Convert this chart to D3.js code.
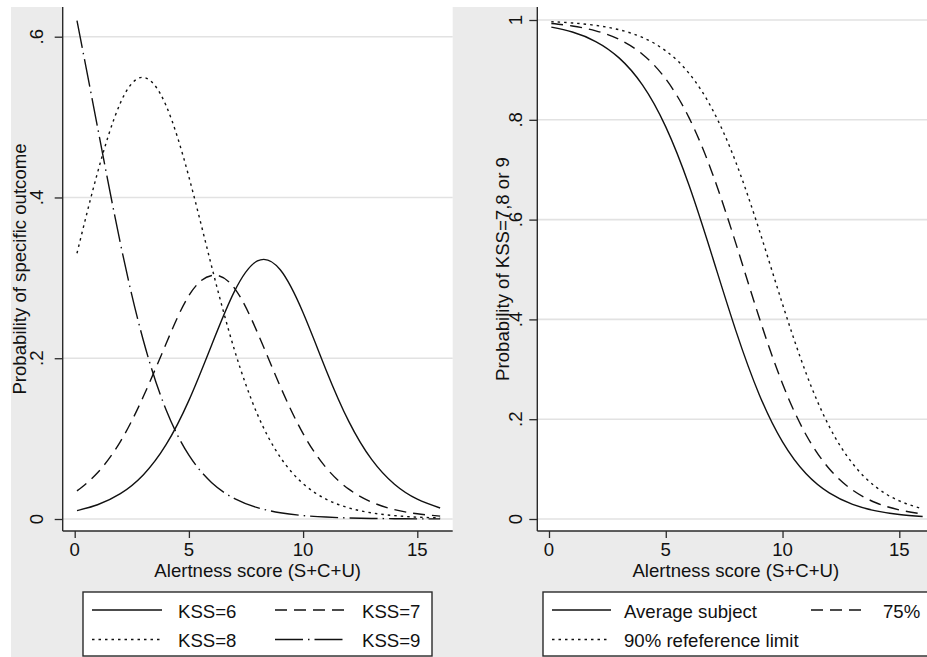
<!DOCTYPE html>
<html><head><meta charset="utf-8">
<script src="https://cdn.jsdelivr.net/npm/d3@7"></script>
<style>
html,body{margin:0;padding:0;background:#fff;}
svg{display:block;font-family:"Liberation Sans",Arial,Helvetica,sans-serif;}
</style>
</head><body>
<svg id="c" width="927" height="657"></svg>
<script>
// ---- data ----
const xValues = [0.1,1,2,3,4,5,6,7,8,9,10,11,12,13,14,15,16];
const kss6 = [0.0104,0.0177,0.0315,0.0548,0.0924,0.1476,0.2168,0.2835,0.3210,0.3100,0.2565,0.1858,0.1214,0.0741,0.0432,0.0246,0.0137];
const kss7 = [0.0350,0.0575,0.0963,0.1520,0.2180,0.2780,0.3030,0.2870,0.2320,0.1650,0.1062,0.0640,0.0371,0.0210,0.0117,0.0065,0.0036];
const kss8 = [0.3306,0.4309,0.5176,0.5494,0.5143,0.4256,0.3137,0.2098,0.1302,0.0769,0.0440,0.0248,0.0138,0.0076,0.0042,0.0023,0.0013];
const kss9 = [0.6201,0.4875,0.3430,0.2227,0.1359,0.0794,0.0452,0.0253,0.0141,0.0078,0.0043,0.0024,0.0013,0.0007,0.0004,0.0002,0.0001];
const avgSubject = [0.9858,0.9759,0.9569,0.9241,0.8699,0.7858,0.6682,0.5250,0.3775,0.2497,0.1545,0.0911,0.0522,0.0293,0.0163,0.0090,0.0050];
const pct75 = [0.9930,0.9880,0.9783,0.9612,0.9315,0.8818,0.8038,0.6921,0.5523,0.4037,0.2709,0.1694,0.1007,0.0579,0.0326,0.0182,0.0101];
const ref90 = [0.9965,0.9941,0.9892,0.9805,0.9651,0.9382,0.8929,0.8205,0.7150,0.5793,0.4305,0.2932,0.1854,0.1111,0.0641,0.0363,0.0202];

const xTicks = [0,5,10,15];
const yTicksLeft = [0,0.2,0.4,0.6];
const yTicksRight = [0,0.2,0.4,0.6,0.8,1];
const xTitle = "Alertness score (S+C+U)";
const yTitleLeft = "Probability of specific outcome";
const yTitleRight = "Probability of KSS=7,8 or 9";
const leftLegend = ["KSS=6","KSS=7","KSS=8","KSS=9"];
const rightLegend = ["Average subject","75%","90% refeference limit"];

// ---- styles ----
const FS = 18.6;
const INK = "#111";
const AX = "#2a2a2a";
const dashes = {solid:null, dash:"12,7", dot:"2.5,4", dashdot:"28,5,1.5,5"};
const tickFmt = d => d===0 ? "0" : d===1 ? "1" : String(+d.toFixed(1)).replace(/^0/,"");

const svg = d3.select("#c");
svg.append("rect").attr("width",927).attr("height",657).attr("fill","#fff");
svg.append("rect").attr("x",11).attr("y",7).attr("width",930).attr("height",660).attr("fill","#ebebeb");

function panel(cfg){
  const g = svg.append("g");
  const x = d3.scaleLinear().domain([0,15]).range(cfg.xr);
  const y = d3.scaleLinear().domain(cfg.yd).range(cfg.yr);
  const L = cfg.frame[0], R = cfg.frame[1], T = 7, B = 531;
  g.append("rect").attr("x",L).attr("y",T).attr("width",R-L).attr("height",B-T).attr("fill","#fff");
  const id = "clip"+cfg.name;
  svg.append("clipPath").attr("id",id).append("rect").attr("x",L).attr("y",T).attr("width",R-L).attr("height",B-T);
  // grid
  g.selectAll(".grid").data(cfg.yTicks).join("line")
    .attr("x1",L).attr("x2",R).attr("y1",d=>y(d)).attr("y2",d=>y(d))
    .attr("stroke","#e2e2e2").attr("stroke-width",1.6);
  // curves
  const line = d3.line().x((d,i)=>x(xValues[i])).y(d=>y(d)).curve(d3.curveNatural);
  const cg = g.append("g").attr("clip-path",`url(#${id})`);
  cfg.series.forEach(s=>{
    cg.append("path").attr("d",line(s.values)).attr("fill","none")
      .attr("stroke",INK).attr("stroke-width",1.4)
      .attr("stroke-dasharray",dashes[s.style]);
  });
  // axes lines
  g.append("line").attr("x1",L).attr("x2",L).attr("y1",T).attr("y2",B).attr("stroke",AX).attr("stroke-width",1.4);
  g.append("line").attr("x1",L).attr("x2",R).attr("y1",B).attr("y2",B).attr("stroke",AX).attr("stroke-width",1.4);
  // y ticks via axis
  const ya = g.append("g").attr("transform",`translate(${L},0)`)
    .call(d3.axisLeft(y).tickValues(cfg.yTicks).tickSize(8).tickFormat(""));
  ya.select(".domain").remove();
  ya.selectAll(".tick line").attr("stroke",AX).attr("stroke-width",1.3);
  g.selectAll(".ylab").data(cfg.yTicks).join("text")
    .attr("transform",d=>`translate(${cfg.ylabX},${y(d)}) rotate(-90)`)
    .attr("text-anchor","middle").attr("font-size",FS).attr("fill",INK).text(tickFmt);
  // x ticks via axis
  const xa = g.append("g").attr("transform",`translate(0,${B})`)
    .call(d3.axisBottom(x).tickValues(xTicks).tickSize(7).tickFormat(""));
  xa.select(".domain").remove();
  xa.selectAll(".tick line").attr("stroke",AX).attr("stroke-width",1.3);
  g.selectAll(".xlab").data(xTicks).join("text")
    .attr("x",d=>x(d)).attr("y",556).attr("text-anchor","middle")
    .attr("font-size",FS).attr("fill",INK).text(d=>d);
  // titles
  g.append("text").attr("x",(L+R)/2).attr("y",577).attr("text-anchor","middle")
    .attr("font-size",FS).attr("fill",INK).text(xTitle);
  g.append("text").attr("transform",`translate(${cfg.ytitleX},${(T+B)/2}) rotate(-90)`)
    .attr("text-anchor","middle").attr("font-size",FS).attr("fill",INK).text(cfg.yTitle);
  // legend
  const lg = cfg.legend;
  g.append("rect").attr("x",lg.box[0]).attr("y",592).attr("width",lg.box[1]-lg.box[0]).attr("height",64)
    .attr("fill","#fff").attr("stroke",AX).attr("stroke-width",1.4);
  lg.items.forEach(it=>{
    const ly = it.row===0 ? 610 : 639.5;
    const ty = it.row===0 ? 617.5 : 646.5;
    g.append("line").attr("x1",it.x1).attr("x2",it.x2).attr("y1",ly).attr("y2",ly)
      .attr("stroke",INK).attr("stroke-width",1.4).attr("stroke-dasharray",dashes[it.style]);
    g.append("text").attr("x",it.tx).attr("y",ty).attr("font-size",FS).attr("fill",INK).text(it.label);
  });
}

panel({
  name:"L", xr:[74.7,417.3], yd:[0,0.6], yr:[519,36.7], frame:[62.7,452.7],
  yTicks:yTicksLeft, ylabX:42.5, ytitleX:25.5, yTitle:yTitleLeft,
  series:[{values:kss6,style:"solid"},{values:kss7,style:"dash"},{values:kss8,style:"dot"},{values:kss9,style:"dashdot"}],
  legend:{box:[83,432], items:[
    {row:0,x1:92,x2:162,tx:178,style:"solid",label:leftLegend[0]},
    {row:0,x1:275,x2:345,tx:362,style:"dash",label:leftLegend[1]},
    {row:1,x1:92,x2:162,tx:178,style:"dot",label:leftLegend[2]},
    {row:1,x1:275,x2:345,tx:362,style:"dashdot",label:leftLegend[3]}
  ]}
});
panel({
  name:"R", xr:[549,899.3], yd:[0,1], yr:[519,20], frame:[537.3,934.3],
  yTicks:yTicksRight, ylabX:522, ytitleX:509, yTitle:yTitleRight,
  series:[{values:avgSubject,style:"solid"},{values:pct75,style:"dash"},{values:ref90,style:"dot"}],
  legend:{box:[543,960], items:[
    {row:0,x1:552,x2:611,tx:624,style:"solid",label:rightLegend[0]},
    {row:0,x1:811,x2:868,tx:883,style:"dash",label:rightLegend[1]},
    {row:1,x1:552,x2:608,tx:624,style:"dot",label:rightLegend[2]}
  ]}
});
</script>
</body></html>
